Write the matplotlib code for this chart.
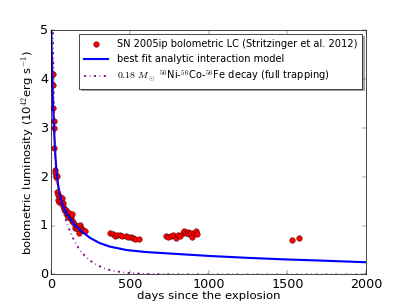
import matplotlib
matplotlib.use('Agg')
import matplotlib.pyplot as plt

plt.style.use('classic')
plt.rcParams['mathtext.fontset'] = 'cm'
plt.rcParams['figure.facecolor'] = 'white'
plt.rcParams['savefig.facecolor'] = 'white'

# observed bolometric light curve (days, 1e42 erg/s)
obs_days = [15, 15, 16, 17, 17, 21, 23, 27, 30, 36, 40, 44, 47, 50, 57, 62, 68, 74,
            78, 83, 88, 95, 100, 104, 110, 116, 120, 125, 131, 135, 142, 150, 155,
            163, 170, 180, 184, 190, 200, 205, 216,
            375, 391, 406, 421, 438, 453, 476, 491, 506, 523, 533, 561,
            728, 745, 760, 777, 794, 809, 819, 836, 845, 857, 868, 878, 889, 895,
            908, 919, 925,
            1532, 1575]
obs_lum = [4.10, 3.87, 3.41, 3.15, 2.99, 2.59, 2.14, 2.07, 2.00, 2.01, 1.69, 1.63,
           1.52, 1.48, 1.59, 1.50, 1.56, 1.46, 1.40, 1.35, 1.30, 1.32, 1.22, 1.25,
           1.18, 1.25, 1.15, 1.18, 1.23, 1.10, 1.08, 1.02, 0.95, 0.99, 0.93, 0.84,
           1.01, 0.95, 0.91, 0.92, 0.89,
           0.84, 0.83, 0.79, 0.81, 0.80, 0.78, 0.79, 0.77, 0.76, 0.74, 0.72, 0.73,
           0.79, 0.77, 0.79, 0.80, 0.75, 0.81, 0.79, 0.84, 0.88, 0.84, 0.87, 0.82,
           0.84, 0.77, 0.84, 0.89, 0.82,
           0.71, 0.75]
obs_err = [0.35, 0.3, 0.3, 0.25, 0.25, 0.2, 0.15, 0.15, 0.15, 0.12, 0.1, 0.1,
           0.08, 0.08, 0.08, 0.08, 0.08, 0.06, 0.06, 0.06, 0.05, 0.05, 0.05, 0.05,
           0.05, 0.05, 0.04, 0.04, 0.04, 0.04, 0.04, 0.03, 0.03, 0.03, 0.03, 0.03,
           0.03, 0.03, 0.03, 0.03, 0.03] + [0.0] * 31

# best fit analytic interaction model
model_days = [1, 3, 5, 8, 12, 19, 27, 36, 45, 57, 75, 100, 121, 150, 184, 248, 311,
              375, 480, 600, 800, 1000, 1250, 1475, 1750, 2000]
model_lum = [5.6, 5.0, 4.6, 4.1, 3.6, 3.05, 2.5, 2.1, 1.85, 1.63, 1.42, 1.25, 1.15,
             1.02, 0.91, 0.75, 0.64, 0.57, 0.50, 0.46, 0.42, 0.38, 0.34, 0.31,
             0.28, 0.25]

# Ni-Co-Fe decay, 0.18 Msun
decay_days = [13, 15, 20, 25, 30, 40, 50, 60, 80, 100, 125, 150, 175, 200, 250, 300,
              350, 400, 450, 500, 600, 800, 1000, 1500, 2000]
decay_lum = [4.96, 4.39, 3.37, 2.76, 2.38, 1.94, 1.70, 1.53, 1.27, 1.06, 0.85, 0.68,
             0.54, 0.43, 0.28, 0.18, 0.11, 0.072, 0.046, 0.029, 0.012, 0.002, 0.0,
             0.0, 0.0]

fig = plt.figure(figsize=(8, 6))
ax = fig.add_subplot(111)

ax.errorbar(obs_days, obs_lum, yerr=obs_err, fmt='none', ecolor='red', alpha=0.3,
            capsize=3, elinewidth=1.5)
ax.plot(obs_days, obs_lum, 'o', color='red', mec='black', mew=0.5, ms=8,
        label='SN 2005ip bolometric LC (Stritzinger et al. 2012)')
ax.plot(model_days, model_lum, '-', color='blue', lw=3,
        label='best fit analytic interaction model')
ax.plot(decay_days, decay_lum, '-.', color='purple', lw=2.5,
        label=r'$0.18\ M_\odot$ $^{56}$Ni-$^{56}$Co-$^{56}$Fe decay (full trapping)')

ax.set_xlim(0, 2000)
ax.set_ylim(0, 5)
ax.set_xticks([0, 500, 1000, 1500, 2000])
ax.set_yticks([0, 1, 2, 3, 4, 5])
ax.tick_params(labelsize=18, length=6)
ax.set_xlabel('days since the explosion', fontsize=16.5, labelpad=0)
ax.set_ylabel(r'bolometric luminosity (10$^{42}$erg s$^{-1}$)', fontsize=16.5)
ax.legend(loc='upper right', numpoints=1, shadow=True, fontsize=14,
          handlelength=2.4, handletextpad=0.9, borderpad=0.5,
          labelspacing=0.5, borderaxespad=0.4)

fig.savefig('out.png', dpi=50.875)
